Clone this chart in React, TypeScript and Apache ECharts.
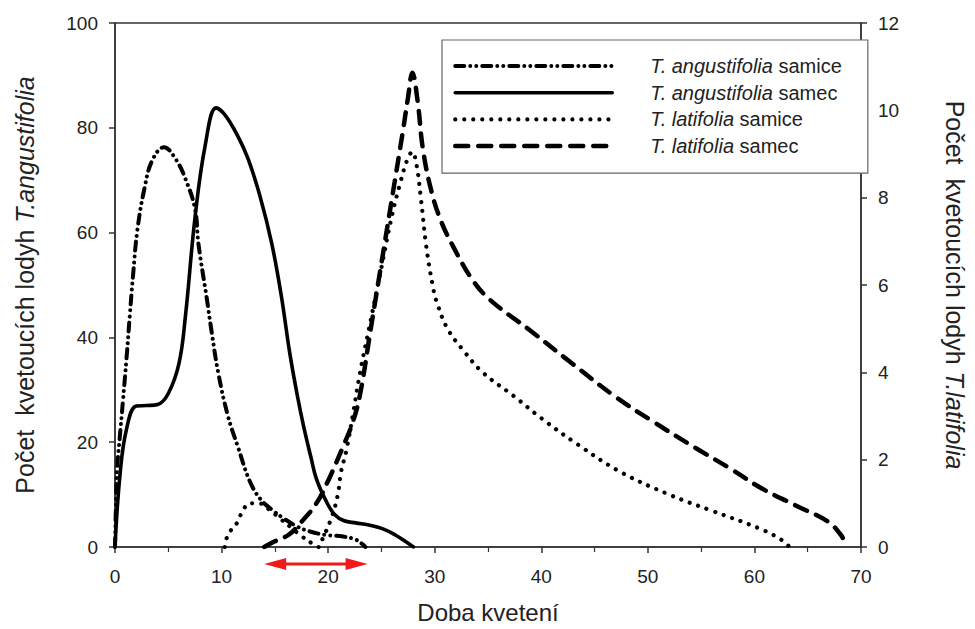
import React, { useEffect, useRef } from 'react';
import * as echarts from 'echarts';

// ---- data (x = Doba kvetení, y = počet kvetoucích lodyh) ----
const angSamiceName = 'T. angustifolia samice';
const angSamecName = 'T. angustifolia samec';
const latSamiceName = 'T. latifolia samice';
const latSamecName = 'T. latifolia samec';

// left axis (T. angustifolia)
const angSamice: [number, number][] = [
  [0, 0], [0.1, 9], [0.2, 15], [0.45, 21], [0.75, 28], [1.08, 36], [1.4, 44.5], [1.7, 52],
  [2.1, 60.5], [2.77, 68.5], [3.5, 73.8], [4.6, 76.3], [5.7, 74], [6.6, 70.3], [7.5, 64.6],
  [7.84, 57.7], [8.6, 47.6], [9.05, 41.3], [9.7, 33.1], [10.6, 25], [11.5, 19.3], [12.7, 12.3],
  [13.7, 9.0], [14.8, 7.0], [15.8, 5.5], [17.1, 3.9], [18.3, 2.95], [19.8, 2.3], [21.4, 2.0],
  [22.6, 1.4], [23.3, 0.4], [23.5, 0],
];

const angSamec: [number, number][] = [
  [0, 0], [0.46, 13.6], [1.08, 22.5], [2, 26.9], [3, 27], [4, 27.2], [5, 29.3], [6, 35],
  [6.6, 43.9], [7.5, 62.7], [8.46, 76.6], [9.5, 83.8], [10.3, 82.5], [11.5, 78.5], [12.5, 74],
  [13.6, 67], [14.7, 58], [15.6, 48], [16.4, 37], [17.1, 29], [17.7, 23], [18.4, 17], [18.9, 13],
  [19.8, 8.8], [20.6, 6.2], [21.5, 5.0], [22.6, 4.6], [24, 4.1], [25.2, 3.4], [26.3, 2.3],
  [27.3, 1], [28, 0],
];

// right axis (T. latifolia)
const latSamice: [number, number][] = [
  [10.3, 0], [10.6, 0.28], [11.5, 0.57], [11.7, 0.7], [12.7, 1.0], [13.5, 1.0], [14.5, 0.85],
  [15.5, 0.65], [16.5, 0.45], [17.5, 0.25], [18.5, 0.08], [19.1, 0], [19.5, 0.2], [20.3, 0.66],
  [20.9, 1.19], [21.2, 1.71], [21.7, 2.2], [22.3, 3.0], [23, 4.0], [24, 5.2], [25, 6.4],
  [26, 7.6], [26.8, 8.37], [27.4, 8.85], [27.9, 9.05], [28.3, 8.74], [28.7, 8.0], [29.2, 6.9],
  [29.8, 6.0], [30.2, 5.6], [31.2, 5.0], [32.7, 4.5], [34.5, 4.0], [37.4, 3.46], [40, 2.95],
  [43.4, 2.35], [47.5, 1.71], [52.1, 1.19], [56, 0.83], [60.5, 0.42], [62.5, 0.17], [63.3, 0],
];

const latSamec: [number, number][] = [
  [14, 0], [15, 0.13], [16.3, 0.28], [17.4, 0.55], [18.9, 1.0], [20.1, 1.57], [21.4, 2.3],
  [22.3, 2.85], [23, 3.5], [24, 5.0], [25, 6.5], [26, 8.0], [27, 9.5], [27.5, 10.3],
  [27.9, 10.86], [28.4, 10.2], [28.9, 9.1], [29.7, 8.14], [30.6, 7.46], [31.8, 6.85],
  [33.4, 6.17], [35.1, 5.68], [38.9, 4.97], [42.9, 4.2], [46.9, 3.45], [50.3, 2.9],
  [54.6, 2.25], [57.7, 1.8], [60.7, 1.34], [63.8, 0.96], [66.9, 0.58], [68.1, 0.28],
  [68.4, 0.13], [68.5, 0],
];

// axis ranges / ticks
const xRange = [0, 70];
const xStep = 10;
const leftRange = [0, 100];
const leftStep = 20;
const rightRange = [0, 12];
const rightStep = 2;

// red double arrow range (in x units)
const arrowRange = [14, 23.7];

const FONT = '"Liberation Sans", Arial, Helvetica, sans-serif';
const INK = '#222';

export default function App() {
  const ref = useRef<HTMLDivElement>(null);
  useEffect(() => {
    if (!ref.current) return;
    const chart = echarts.init(ref.current, undefined, { renderer: 'svg' });
    const baseLine = (type: any, width: number) => ({
      color: '#000',
      width,
      type,
      cap: 'round',
      join: 'round',
    });
    const styles: Record<string, any> = {
      [angSamiceName]: baseLine([9, 6, 0.01, 6, 0.01, 6], 4),
      [angSamecName]: baseLine('solid', 3.6),
      [latSamiceName]: baseLine([0.01, 9], 4.2),
      [latSamecName]: baseLine([13, 10], 4.5),
    };
    const mk = (name: string, data: [number, number][], yAxisIndex: number) => ({
      name,
      type: 'line',
      data,
      yAxisIndex,
      symbol: 'none',
      smooth: 0.4,
      color: '#000',
      lineStyle: styles[name],
      z: 3,
    });
    const italicFmt = (name: string) => {
      const m = name.match(/^(T\. \w+) (.*)$/);
      return m ? `{i|${m[1]}} {n|${m[2]}}` : name;
    };
    const titleStyle = (size: number) => ({
      fontFamily: FONT, fontSize: size, color: INK,
      rich: {
        n: { fontFamily: FONT, fontSize: size, color: INK },
        i: { fontFamily: FONT, fontSize: size, color: INK, fontStyle: 'italic' },
      },
    });
    const names = [angSamiceName, angSamecName, latSamiceName, latSamecName];
    chart.setOption({
      animation: false,
      backgroundColor: '#fff',
      textStyle: { fontFamily: FONT, color: INK },
      grid: {
        left: 115, right: 101, top: 23, bottom: 77,
        show: true, borderColor: '#333', borderWidth: 1.5, backgroundColor: 'transparent',
      },
      legend: {
        orient: 'vertical',
        left: 442,
        top: 40,
        padding: [16, 26, 17, 11],
        borderColor: '#666',
        borderWidth: 1.2,
        backgroundColor: '#fff',
        itemWidth: 157,
        itemHeight: 14,
        itemGap: 6.7,
        itemStyle: { opacity: 0 },
        formatter: italicFmt,
        textStyle: {
          fontFamily: FONT,
          fontSize: 20,
          color: INK,
          padding: [0, 0, 0, 33],
          rich: {
            i: { fontFamily: FONT, fontSize: 20, fontStyle: 'italic', color: INK },
            n: { fontFamily: FONT, fontSize: 20, color: INK },
          },
        },
        data: names.map((n) => ({ name: n, lineStyle: styles[n], itemStyle: { opacity: 0 } })),
      },
      xAxis: {
        type: 'value',
        min: xRange[0], max: xRange[1], interval: xStep,
        name: 'Doba kvetení',
        nameLocation: 'middle',
        nameGap: 53,
        nameTextStyle: { fontFamily: FONT, fontSize: 24, color: INK },
        axisLine: { show: true, lineStyle: { color: '#333', width: 1.5 } },
        axisTick: { show: true, inside: false, length: 6, lineStyle: { color: '#333', width: 1.5 } },
        minorTick: { show: true, splitNumber: 2, length: 5, lineStyle: { color: '#333', width: 1.2 } },
        axisLabel: { margin: 20, fontSize: 19, fontFamily: FONT, color: INK },
        splitLine: { show: false },
      },
      yAxis: [
        {
          type: 'value',
          position: 'left',
          min: leftRange[0], max: leftRange[1], interval: leftStep,
          name: '{n|Počet  kvetoucích lodyh }{i|T.angustifolia}',
          nameLocation: 'middle',
          nameRotate: 90,
          nameGap: 78,
          nameTextStyle: titleStyle(25),
          axisLine: { show: true, lineStyle: { color: '#333', width: 1.5 } },
          axisTick: { show: true, inside: false, length: 6, lineStyle: { color: '#333', width: 1.5 } },
          axisLabel: { margin: 17, fontSize: 19, fontFamily: FONT, color: INK },
          splitLine: { show: false },
        },
        {
          type: 'value',
          position: 'right',
          min: rightRange[0], max: rightRange[1], interval: rightStep,
          name: '{n|Počet  kvetoucích lodyh }{i|T.latifolia}',
          nameLocation: 'middle',
          nameRotate: -90,
          nameGap: 81,
          nameTextStyle: titleStyle(25),
          axisLine: { show: true, lineStyle: { color: '#333', width: 1.5 } },
          axisTick: { show: true, inside: false, length: 6, lineStyle: { color: '#333', width: 1.5 } },
          axisLabel: { margin: 17, fontSize: 19, fontFamily: FONT, color: INK },
          splitLine: { show: false },
        },
      ],
      series: [
        mk(angSamiceName, angSamice, 0),
        mk(angSamecName, angSamec, 0),
        mk(latSamiceName, latSamice, 1),
        mk(latSamecName, latSamec, 1),
      ],
    });

    // red double-headed arrow under the x axis
    const xa = chart.convertToPixel({ xAxisIndex: 0 }, arrowRange[0]) as number;
    const xb = chart.convertToPixel({ xAxisIndex: 0 }, arrowRange[1]) as number;
    const y0 = chart.convertToPixel({ yAxisIndex: 0 }, 0) as number;
    const ya = y0 + 17;
    const red = '#f2191b';
    const headL = 22;
    const headH = 6;
    chart.setOption({
      graphic: [
        {
          type: 'line',
          shape: { x1: xa + headL - 2, y1: ya, x2: xb - headL + 2, y2: ya },
          style: { stroke: red, lineWidth: 3 },
          silent: true,
        },
        {
          type: 'polygon',
          shape: { points: [[xa, ya], [xa + headL, ya - headH], [xa + headL, ya + headH]] },
          style: { fill: red },
          silent: true,
        },
        {
          type: 'polygon',
          shape: { points: [[xb, ya], [xb - headL, ya - headH], [xb - headL, ya + headH]] },
          style: { fill: red },
          silent: true,
        },
      ],
    });

    return () => chart.dispose();
  }, []);
  return (
    <div
      ref={ref}
      style={{ position: 'fixed', left: 0, top: 0, width: 975, height: 629, background: '#fff' }}
    />
  );
}
